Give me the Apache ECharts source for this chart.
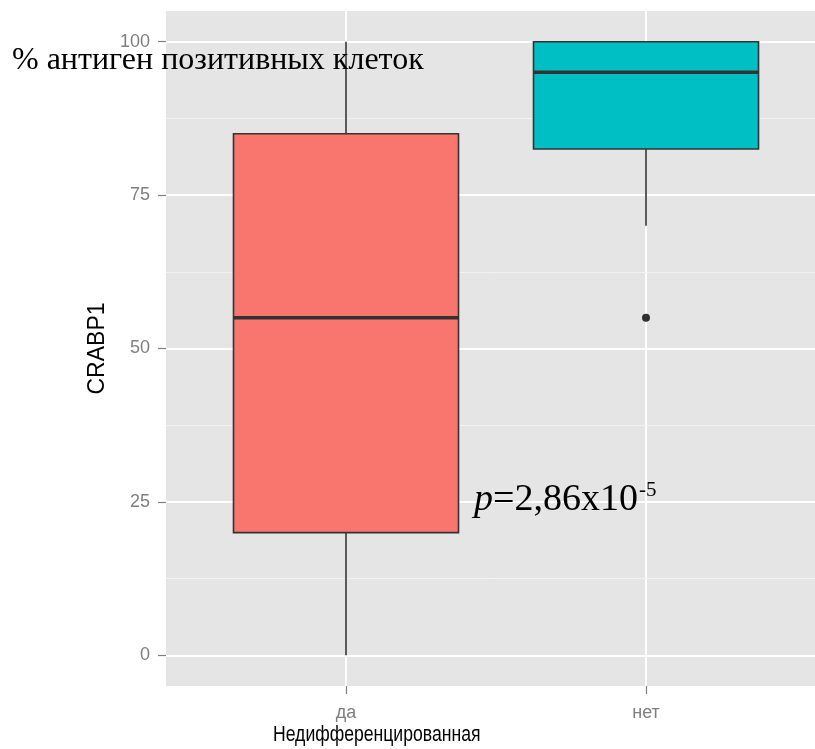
<!DOCTYPE html>
<html>
<head>
<meta charset="utf-8">
<script src="https://cdn.jsdelivr.net/npm/echarts@6/dist/echarts.min.js"></script>
<style>
  html, body { margin: 0; padding: 0; background: #fff; }
  #chart { width: 815px; height: 749px; }
</style>
</head>
<body>
<div id="chart"></div>
<script>
// groups on the x axis and their positions
const groups = ['да', 'нет']
const groupPos = [1, 2]

// box statistics per group
const whiskerLow = [0, 70]
const q1 = [20, 82.5]
const median = [55, 95]
const q3 = [85, 100]
const whiskerHigh = [100, 100]
const boxColors = ['#F8766D', '#00BFC4']

// outlier points [group position, value]
const outliers = [[2, 55]]

// y ticks and minor grid
const yTicks = [0, 25, 50, 75, 100]
const yMinor = [12.5, 37.5, 62.5, 87.5]

const chart = echarts.init(document.getElementById('chart'))

const tickColor = '#7F7F7F'
const edge = '#333333'

function renderBox(params, api) {
  const x = api.value(0)
  const lo = api.coord([x, api.value(1)])
  const b1 = api.coord([x, api.value(2)])
  const md = api.coord([x, api.value(3)])
  const b3 = api.coord([x, api.value(4)])
  const hi = api.coord([x, api.value(5)])
  const w = api.size([0.75, 0])[0]
  const left = lo[0] - w / 2
  return {
    type: 'group',
    children: [
      { type: 'line', shape: { x1: lo[0], y1: lo[1], x2: b1[0], y2: b1[1] }, style: { stroke: edge, lineWidth: 1.6 } },
      { type: 'line', shape: { x1: b3[0], y1: b3[1], x2: hi[0], y2: hi[1] }, style: { stroke: edge, lineWidth: 1.6 } },
      {
        type: 'rect',
        shape: { x: left, y: b3[1], width: w, height: b1[1] - b3[1] },
        style: { fill: boxColors[params.dataIndex], stroke: edge, lineWidth: 1.6 }
      },
      { type: 'line', shape: { x1: left, y1: md[1], x2: left + w, y2: md[1] }, style: { stroke: edge, lineWidth: 3.5 } }
    ]
  }
}

const boxData = groupPos.map((x, i) => [x, whiskerLow[i], q1[i], median[i], q3[i], whiskerHigh[i]])

const option = {
  animation: false,
  backgroundColor: '#ffffff',
  grid: {
    left: 166,
    top: 11,
    right: 0,
    height: 675,
    show: true,
    backgroundColor: '#E5E5E5',
    borderWidth: 0
  },
  xAxis: {
    type: 'value',
    position: 'bottom',
    min: 0.4,
    max: 2.5633,
    axisLine: { show: false, onZero: false },
    axisTick: {
      show: true,
      customValues: groupPos,
      length: 8,
      lineStyle: { color: tickColor, width: 1.2 }
    },
    axisLabel: {
      customValues: groupPos,
      formatter: (v) => groups[groupPos.indexOf(v)] || '',
      color: tickColor,
      fontSize: 18,
      fontFamily: 'Liberation Sans, Arial, sans-serif',
      margin: 18
    },
    splitLine: { show: true, lineStyle: { color: '#ffffff', width: 2 } }
  },
  yAxis: {
    type: 'value',
    min: -5,
    max: 105,
    name: 'CRABP1',
    nameLocation: 'middle',
    nameGap: 49,
    nameRotate: 90,
    nameTextStyle: { color: '#000', fontSize: 23, fontFamily: 'Liberation Sans, Arial, sans-serif' },
    axisLine: { show: false, onZero: false },
    axisTick: {
      show: true,
      customValues: yTicks,
      length: 8,
      lineStyle: { color: tickColor, width: 1.2 }
    },
    axisLabel: {
      customValues: yTicks,
      color: tickColor,
      fontSize: 18,
      fontFamily: 'Liberation Sans, Arial, sans-serif',
      margin: 16
    },
    splitLine: { show: true, lineStyle: { color: '#ffffff', width: 2 } }
  },
  series: [
    {
      type: 'line',
      data: [],
      silent: true,
      z: 1,
      markLine: {
        silent: true,
        z: 1,
        symbol: 'none',
        label: { show: false },
        lineStyle: { color: '#F2F2F2', width: 1, type: 'solid' },
        data: yMinor.map((v) => ({ yAxis: v }))
      }
    },
    {
      type: 'custom',
      renderItem: renderBox,
      z: 3,
      dimensions: ['x', 'low', 'q1', 'median', 'q3', 'high'],
      encode: { x: 0, y: [1, 2, 3, 4, 5] },
      data: boxData
    },
    {
      type: 'scatter',
      z: 4,
      symbol: 'circle',
      symbolSize: 8,
      itemStyle: { color: '#000000' },
      data: outliers
    }
  ],
  graphic: [
    {
      type: 'text',
      x: 273,
      y: 735,
      scaleX: 0.8,
      style: {
        text: 'Недифференцированная',
        fill: '#000',
        verticalAlign: 'middle',
        font: '22px "Liberation Sans", Arial, sans-serif'
      }
    },
    {
      type: 'text',
      x: 12,
      y: 61,
      z: 100,
      style: {
        text: '% антиген позитивных клеток',
        fill: '#000',
        verticalAlign: 'middle',
        font: '32px "Liberation Serif", "Times New Roman", serif'
      }
    },
    {
      type: 'text',
      x: 474,
      y: 500,
      z: 100,
      style: {
        text: '{i|p}=2,86x10',
        fill: '#000',
        verticalAlign: 'middle',
        font: '38px "Liberation Serif", "Times New Roman", serif',
        rich: {
          i: { fontStyle: 'italic', fontSize: 38, fontFamily: '"Liberation Serif", serif' }
        }
      }
    },
    {
      type: 'text',
      x: 639,
      y: 490,
      z: 100,
      style: {
        text: '-5',
        fill: '#000',
        verticalAlign: 'middle',
        font: '21px "Liberation Serif", "Times New Roman", serif'
      }
    }
  ]
}

chart.setOption(option)
</script>
</body>
</html>
